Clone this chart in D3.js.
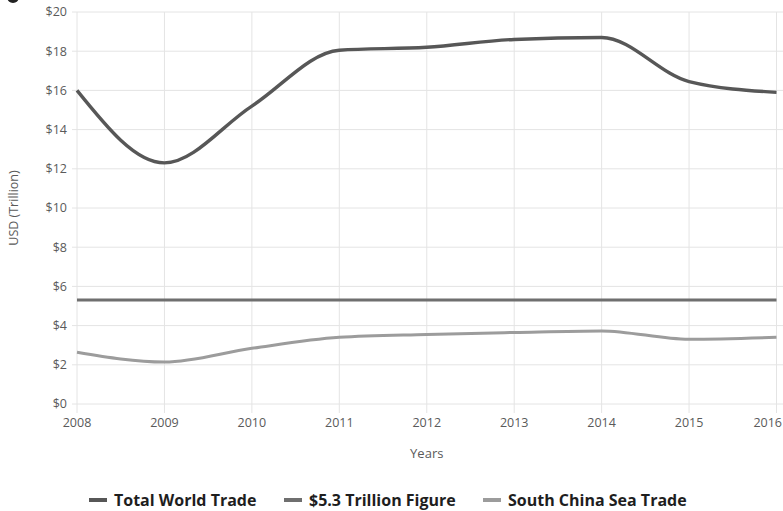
<!DOCTYPE html>
<html>
<head>
<meta charset="utf-8">
<style>
  body { margin: 0; background: #fff; font-family: "Open Sans", sans-serif; }
  .grid line { stroke: #e4e4e4; stroke-width: 1px; }
  .tick-label { fill: #5a5a5a; font-size: 12.5px; }
  .legend text { font-family: "Open Sans", sans-serif; font-weight: 700; font-size: 16px; fill: #1e1e1e; }
</style>
<script src="https://d3js.org/d3.v7.min.js"></script>
</head>
<body>
<script>
const years = [2008, 2009, 2010, 2011, 2012, 2013, 2014, 2015, 2016];
const totalWorldTrade = [16.0, 12.3, 15.2, 18.05, 18.2, 18.6, 18.7, 16.45, 15.9];
const figure53 = [5.3, 5.3, 5.3, 5.3, 5.3, 5.3, 5.3, 5.3, 5.3];
const southChinaSea = [2.64, 2.14, 2.84, 3.4, 3.55, 3.65, 3.73, 3.3, 3.4];
const yTicks = [0, 2, 4, 6, 8, 10, 12, 14, 16, 18, 20];
const seriesNames = ["Total World Trade", "$5.3 Trillion Figure", "South China Sea Trade"];
const seriesColors = ["#575757", "#6f6f6f", "#9c9c9c"];
const seriesWidths = [3.4, 3, 3];

const width = 783, height = 511;
const svg = d3.select("body").append("svg")
  .attr("width", width).attr("height", height);

const x = d3.scaleLinear().domain([2008, 2016]).range([77, 776.5]);
const y = d3.scaleLinear().domain([0, 20]).range([404, 12]);

// grid
const grid = svg.append("g").attr("class", "grid");
grid.selectAll("line.h").data(yTicks).join("line")
  .attr("class", "h")
  .attr("x1", 72).attr("x2", 783)
  .attr("y1", d => y(d)).attr("y2", d => y(d));
grid.selectAll("line.v").data(years).join("line")
  .attr("class", "v")
  .attr("x1", d => x(d)).attr("x2", d => x(d))
  .attr("y1", y(20)).attr("y2", 413);

// tick labels
svg.selectAll("text.ylab").data(yTicks).join("text")
  .attr("class", "tick-label ylab")
  .attr("x", 67).attr("y", d => y(d))
  .attr("dy", "0.35em").attr("text-anchor", "end")
  .text(d => "$" + d);
svg.selectAll("text.xlab").data(years).join("text")
  .attr("class", "tick-label xlab")
  .attr("x", (d, i) => i === years.length - 1 ? 782 : x(d)).attr("y", 423)
  .attr("dy", "0.35em")
  .attr("text-anchor", (d, i) => i === years.length - 1 ? "end" : "middle")
  .text(d => d);

svg.append("text").attr("class", "tick-label")
  .attr("x", x(2012)).attr("y", 453).attr("dy", "0.35em")
  .attr("text-anchor", "middle").style("font-size", "13px")
  .text("Years");
svg.append("text").attr("class", "tick-label")
  .attr("transform", "translate(14,208) rotate(-90)")
  .attr("dy", "0.35em").attr("text-anchor", "middle")
  .text("USD (Trillion)");

// lines
const line = d3.line()
  .x((d, i) => x(years[i]))
  .y(d => y(d))
  .curve(d3.curveMonotoneX);

const allSeries = [totalWorldTrade, figure53, southChinaSea];
[2, 1, 0].forEach(k => {
  svg.append("path")
    .datum(allSeries[k])
    .attr("fill", "none")
    .attr("stroke", seriesColors[k])
    .attr("stroke-width", seriesWidths[k])
    .attr("d", line);
});

// legend
const legendX = [89, 284, 483];
const legend = svg.append("g").attr("class", "legend");
seriesNames.forEach((name, i) => {
  legend.append("line")
    .attr("x1", legendX[i]).attr("x2", legendX[i] + 18)
    .attr("y1", 500).attr("y2", 500)
    .attr("stroke", seriesColors[i]).attr("stroke-width", 4);
  legend.append("text")
    .attr("x", legendX[i] + 25).attr("y", 500).attr("dy", "0.35em")
    .text(name);
});

// small dark fragment in the top-left corner
svg.append("circle").attr("cx", 13).attr("cy", -3).attr("r", 6).attr("fill", "#222");
</script>
</body>
</html>
